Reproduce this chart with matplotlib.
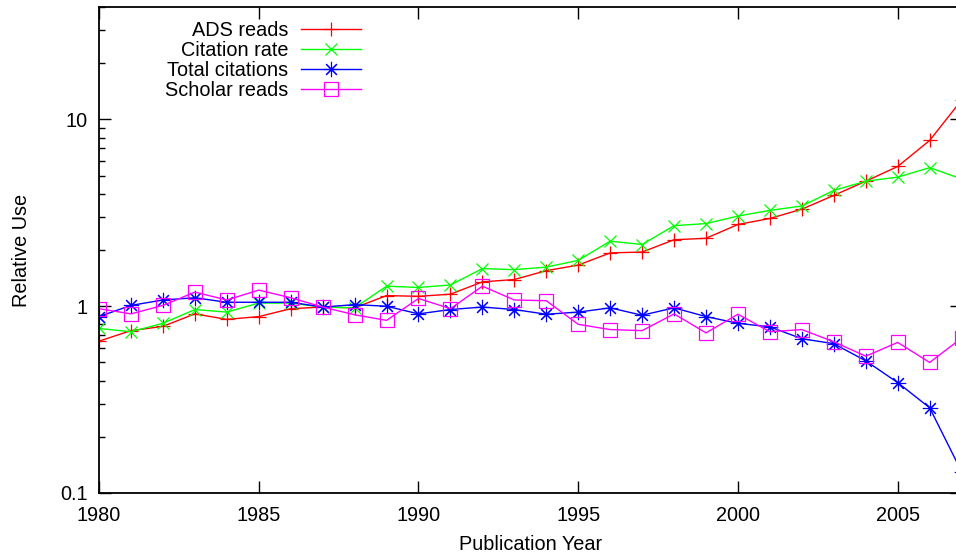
import numpy as np
import matplotlib
matplotlib.use('Agg')
from matplotlib import pyplot as plt
from matplotlib.ticker import FixedLocator, LogLocator, NullFormatter

plt.rcParams['font.family'] = ['Liberation Sans', 'DejaVu Sans']

years = list(range(1980, 2008))
ads_reads = [0.65, 0.74, 0.78, 0.91, 0.85, 0.88, 0.97, 0.99, 0.98, 1.14,
             1.13, 1.16, 1.35, 1.39, 1.55, 1.66, 1.93, 1.95, 2.27, 2.31,
             2.74, 2.95, 3.31, 3.92, 4.67, 5.6, 7.72, 12.7]
citation_rate = [0.76, 0.73, 0.81, 0.96, 0.93, 1.04, 1.04, 0.99, 0.98, 1.28,
                 1.26, 1.30, 1.59, 1.57, 1.62, 1.76, 2.23, 2.14, 2.70, 2.77,
                 3.04, 3.26, 3.44, 4.17, 4.67, 4.91, 5.52, 4.8]
total_citations = [0.88, 1.01, 1.08, 1.11, 1.05, 1.05, 1.05, 0.99, 1.02, 1.0,
                   0.91, 0.96, 0.99, 0.96, 0.906, 0.93, 0.98, 0.895, 0.98, 0.88,
                   0.81, 0.775, 0.67, 0.63, 0.51, 0.39, 0.286, 0.13]
scholar_reads = [0.97, 0.91, 1.01, 1.19, 1.08, 1.22, 1.11, 0.99, 0.90, 0.84,
                 1.10, 0.97, 1.28, 1.08, 1.07, 0.80, 0.75, 0.74, 0.91, 0.72,
                 0.906, 0.73, 0.75, 0.645, 0.54, 0.64, 0.50, 0.675]

fs = 14.3

fig = plt.figure(figsize=(9.56, 5.54), dpi=100)
ax = fig.add_axes([99 / 956, 61 / 554, 862.6 / 956, 486 / 554])

ax.plot(years, ads_reads, color='#ff0000', lw=1.0, marker='+', ms=10, mew=0.9, label='ADS reads')
ax.plot(years, citation_rate, color='#00ff00', lw=1.0, marker='x', ms=9, mew=0.9, label='Citation rate')
ax.plot(years, total_citations, color='#0000ff', lw=1.0, marker=(8, 2, 0), ms=11, mew=0.8, label='Total citations')
ax.plot(years, scholar_reads, color='#ff00ff', lw=1.0, marker='s', ms=10, mew=0.9, mfc='none', label='Scholar reads')

ax.set_yscale('log')
ax.set_xlim(1980, 2007)
ax.set_ylim(0.1, 40)
ax.set_xticks([1980, 1985, 1990, 1995, 2000, 2005])
ax.yaxis.set_major_locator(FixedLocator([0.1, 1, 10]))
ax.set_yticklabels(['0.1', '1', '10'])
ax.yaxis.set_minor_locator(LogLocator(base=10, subs=np.arange(2, 10)))
ax.yaxis.set_minor_formatter(NullFormatter())

ax.tick_params(which='both', direction='in', top=True, right=True, labelsize=fs, width=1.0)
ax.tick_params(which='major', length=8.6)
ax.tick_params(axis='y', which='major', pad=8)
ax.tick_params(axis='x', which='major', pad=9.5)
ax.tick_params(which='minor', length=4.3)
for s in ax.spines.values():
    s.set_linewidth(1.3)

ax.set_xlabel('Publication Year', fontsize=fs)
ax.set_ylabel('Relative Use', fontsize=fs)
ax.xaxis.set_label_coords(0.5, -0.086)
ax.yaxis.set_label_coords(-0.079, 0.5)

leg = ax.legend(loc='upper right', bbox_to_anchor=(361 / 956, 1 - 21 / 554),
                bbox_transform=fig.transFigure, frameon=False, markerfirst=False,
                fontsize=fs, handlelength=3.0, handletextpad=0.65,
                labelspacing=0.05, borderpad=0, borderaxespad=0)

fig.savefig('out.png', dpi=100)
